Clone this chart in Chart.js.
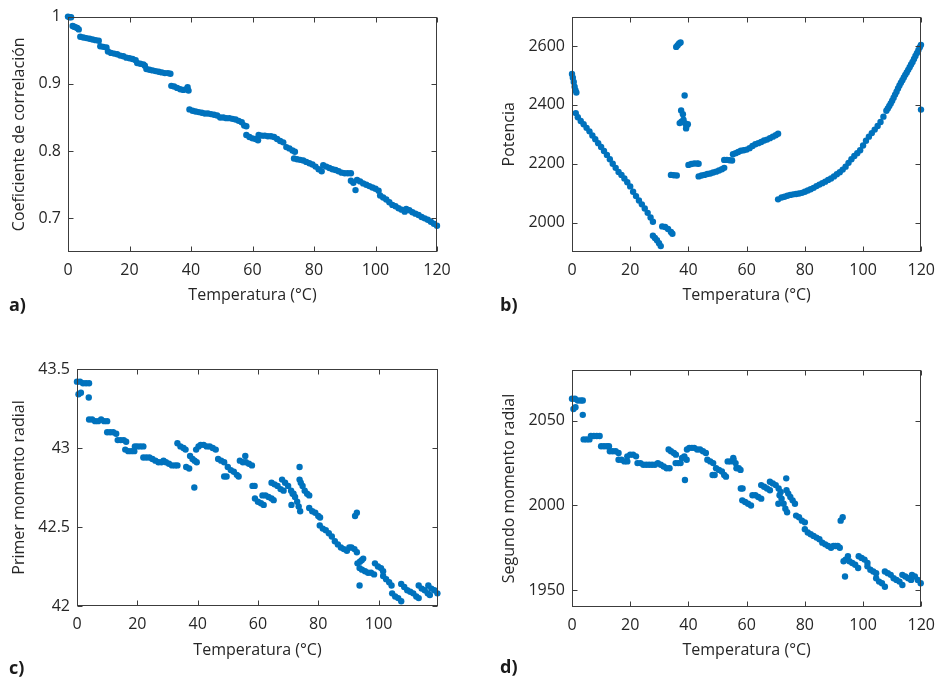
<!DOCTYPE html>
<html>
<head>
<meta charset="utf-8">
<title>Temperatura</title>
<script src="https://cdn.jsdelivr.net/npm/chart.js@4.4.1/dist/chart.umd.min.js"></script>
<style>
    body { margin: 0; background: #fff; }
    .page { position: relative; width: 944px; height: 679px; overflow: hidden; }
    .page canvas { position: absolute; }
    .tag { position: absolute; font-family: 'Open Sans', sans-serif; font-weight: 700; font-size: 18px; line-height: 20px; color: #1a1a1a; }
</style>
</head>
<body>
<div class="page">
    <canvas id="chart-a" width="470" height="330" style="left:0;top:0"></canvas>
    <canvas id="chart-b" width="474" height="330" style="left:470px;top:0"></canvas>
    <canvas id="chart-c" width="470" height="349" style="left:0;top:330px"></canvas>
    <canvas id="chart-d" width="474" height="349" style="left:470px;top:330px"></canvas>
    <div class="tag" style="left:9px;top:294px">a)</div>
    <div class="tag" style="left:500px;top:294px">b)</div>
    <div class="tag" style="left:9px;top:657px">c)</div>
    <div class="tag" style="left:500px;top:656px">d)</div>
</div>
<script>
// Data, one inner array per run of points
const tempTicks = [0, 20, 40, 60, 80, 100, 120];
const tempTicksC = [0, 20, 40, 60, 80, 100];

// a) correlation coefficient
const corrTemp = [
    [0, 0.5, 1.0],
    [1.5, 2, 2.5, 3, 3.5],
    [4, 5, 6, 7, 8, 9, 10],
    [10.5, 11.5, 12.5],
    [13, 14, 15, 16, 17, 18, 19, 20, 21, 22],
    [22.5, 23.5, 24.5, 25],
    [25.5, 26.5, 27.5, 28.5, 29.5, 30.5, 31.5, 32.5, 33.3],
    [33.6, 34.5, 35.5, 36.5, 37.5, 38.5, 38.9, 39.2],
    [39.5, 40.5, 41.5, 42.5, 43.5, 44.5, 45.5, 46.5, 47.5, 48.5, 49.5, 50.5, 51.5, 52.5, 53.5, 54.5, 55.5, 56.5, 57.3, 58],
    [58, 59, 60, 61, 61.8],
    [62, 63, 64, 65, 66, 67, 68, 69, 70],
    [71, 72, 73, 73.8],
    [73.5, 74.5, 75.5, 76.5, 77.5, 78.5, 79.5, 80.5, 81.5, 82.5],
    [83, 84, 85, 86, 87, 88, 89, 90, 91, 92],
    [92, 92.8, 93.5],
    [94, 95, 96, 97, 98, 99, 100, 101],
    [101.5, 102.5, 103.5, 104.5, 105.5, 106.5, 107.5, 108.5, 109.5],
    [110, 111, 112, 113, 114, 115, 116, 117, 118, 119, 120]
];
const corrValue = [
    [1.000, 0.999, 0.999],
    [0.986, 0.985, 0.984, 0.983, 0.981],
    [0.970, 0.969, 0.968, 0.967, 0.966, 0.965, 0.964],
    [0.956, 0.955, 0.954],
    [0.948, 0.946, 0.945, 0.944, 0.942, 0.941, 0.939, 0.938, 0.937, 0.935],
    [0.931, 0.930, 0.929, 0.927],
    [0.922, 0.921, 0.920, 0.919, 0.918, 0.917, 0.916, 0.916, 0.915],
    [0.897, 0.896, 0.894, 0.892, 0.891, 0.892, 0.895, 0.890],
    [0.862, 0.860, 0.859, 0.858, 0.857, 0.856, 0.856, 0.855, 0.854, 0.853, 0.850, 0.850, 0.849, 0.849, 0.848, 0.847, 0.845, 0.843, 0.838, 0.837],
    [0.824, 0.821, 0.819, 0.818, 0.816],
    [0.824, 0.823, 0.823, 0.822, 0.822, 0.821, 0.818, 0.815, 0.813],
    [0.806, 0.804, 0.801, 0.799],
    [0.789, 0.788, 0.787, 0.786, 0.784, 0.782, 0.780, 0.777, 0.773, 0.770],
    [0.779, 0.777, 0.775, 0.773, 0.772, 0.770, 0.768, 0.767, 0.767, 0.767],
    [0.756, 0.753, 0.742],
    [0.757, 0.755, 0.752, 0.750, 0.748, 0.746, 0.744, 0.741],
    [0.734, 0.731, 0.728, 0.724, 0.720, 0.718, 0.715, 0.713, 0.710],
    [0.714, 0.712, 0.709, 0.707, 0.705, 0.702, 0.700, 0.698, 0.695, 0.692, 0.689]
];
const corrTicks = [0.7, 0.8, 0.9, 1];

// b) power
const powerTemp = [
    [0, 0.3, 0.6, 0.9, 1.2, 1.5],
    [1.3, 2, 3, 4, 5, 6, 7, 8, 9, 10, 11, 12, 13, 14, 15, 16, 17, 18, 19, 20, 21, 22, 23, 24, 25, 26, 27, 27.8],
    [27.8, 28.5, 29.2, 29.9, 30.5],
    [31, 32, 33, 34, 34.5],
    [34, 35, 36],
    [35.8, 36.3, 36.8, 37.3],
    [38.7, 37.5, 38.1, 37.0, 37.6, 38.3, 38.8, 39.3, 39.8, 39.2],
    [40, 41, 42, 43, 43.5],
    [43.5, 44.5, 45.5, 46.5, 47.5, 48.5, 49.5, 50.5, 51.5, 52.3],
    [52.3, 53.2, 54.1, 55],
    [55.3, 56.2, 57.1, 58, 59, 60, 61, 62, 63, 64, 65, 66, 67, 68, 69, 70, 70.8],
    [70.8, 72, 73, 74, 75, 76, 77, 78, 79, 80,
     81, 82, 83, 84, 85, 86, 87, 88, 89, 90,
     91, 92, 93, 94, 95, 96, 97, 98, 99, 100,
     101, 102, 103, 104, 105, 106, 107, 108,
     108.5, 109, 109.5, 110, 110.5, 111, 111.5, 112, 112.5, 113,
     113.5, 114, 114.5, 115, 115.5, 116, 116.5, 117, 117.5, 118,
     118.5, 119, 119.5, 119.9],
    [119.9]
];
const powerValue = [
    [2505, 2492, 2478, 2462, 2450, 2442],
    [2372, 2358, 2345, 2334, 2322, 2310, 2296, 2283, 2270, 2257, 2243, 2230, 2215, 2200, 2186, 2172, 2162, 2150, 2137, 2123, 2105, 2090, 2075, 2062, 2048, 2033, 2017, 2003],
    [1955, 1948, 1940, 1930, 1920],
    [1987, 1985, 1978, 1968, 1962],
    [2162, 2161, 2160],
    [2597, 2603, 2609, 2612],
    [2432, 2381, 2368, 2338, 2343, 2350, 2338, 2328, 2334, 2320],
    [2196, 2199, 2201, 2201, 2200],
    [2157, 2160, 2162, 2165, 2167, 2170, 2173, 2177, 2181, 2186],
    [2213, 2213, 2212, 2211],
    [2232, 2236, 2240, 2244, 2246, 2248, 2253, 2260, 2266, 2270, 2274, 2279, 2282, 2287, 2292, 2297, 2302],
    [2079, 2085, 2088, 2091, 2094, 2096, 2097, 2099, 2101, 2105,
     2109, 2113, 2118, 2124, 2129, 2134, 2139, 2145, 2150, 2157,
     2164, 2171, 2180, 2190, 2203, 2215, 2226, 2236, 2246, 2262,
     2278, 2292, 2304, 2316, 2328, 2342, 2360, 2380,
     2388, 2396, 2405, 2414, 2424, 2435, 2445, 2456, 2466, 2475,
     2484, 2493, 2502, 2510, 2519, 2528, 2537, 2546, 2556, 2566,
     2576, 2586, 2596, 2604],
    [2384]
];
const powerTicks = [2000, 2200, 2400, 2600];

// c) first radial moment
const mom1Temp = [
    [0, 1, 2, 3, 4], [0.5, 1.3], [3.9],
    [4, 5, 6, 7, 8, 9, 10],
    [10, 11, 12, 13],
    [13.5, 14.5, 15.5, 16.3],
    [16, 17, 18, 19],
    [19.2, 20, 21, 22],
    [22, 23, 24, 25, 26, 27, 28, 28.7, 29.5, 30.5, 31.5, 32.5, 33.3],
    [33.3, 34.3, 35.3, 36],
    [36.2, 37.2],
    [37.5, 38.3, 39, 39.7],
    [38.9],
    [39.5, 40.3, 41, 42, 43, 44, 45, 46],
    [46.8, 47.8, 48.8],
    [48.8, 49.6],
    [50, 51, 52, 53, 53.6],
    [54, 55, 55.8, 56, 57, 58],
    [58.2, 58.9],
    [59, 60, 61, 61.9],
    [61.5, 62.5, 63.5, 64.5, 65.2],
    [64.5, 65.5, 66.5, 67.5, 68.5],
    [68, 69, 70, 71, 71.8],
    [71.1],
    [71.5, 72.3, 73, 73.5, 74],
    [73.8],
    [73.8, 74.2, 74.8, 75.5, 76.3, 77],
    [77, 78, 79, 80, 80.6],
    [80.5, 81.5, 82.5, 83.5, 84.5, 85.5, 86.5, 87.5, 88.5, 89.5],
    [90.3, 91, 92, 92.8],
    [92.2, 92.8],
    [93, 93.8, 94.4, 94.9, 93.7],
    [93.7],
    [94.5, 95.5, 96.5, 97.5, 98.5],
    [98.8, 99.8, 100.8, 101.5],
    [101.5, 102.5, 103.5, 104.3],
    [104.5, 105.5, 106.5, 107.5],
    [107.5, 108.5, 109.5, 110.5, 111.5, 112.5, 113.3],
    [113.3, 114.3, 115.3, 116.3, 117],
    [116.5, 117.5, 118.5, 119.5]
];
const mom1Value = [
    [43.42, 43.42, 43.41, 43.41, 43.41], [43.34, 43.35], [43.32],
    [43.18, 43.18, 43.17, 43.17, 43.18, 43.17, 43.17],
    [43.10, 43.10, 43.10, 43.09],
    [43.05, 43.05, 43.05, 43.04],
    [42.99, 42.98, 42.98, 42.98],
    [43.01, 43.01, 43.01, 43.01],
    [42.94, 42.94, 42.94, 42.93, 42.92, 42.91, 42.91, 42.92, 42.91, 42.90, 42.89, 42.89, 42.89],
    [43.03, 43.01, 43.00, 42.99],
    [42.88, 42.87],
    [42.95, 42.93, 42.92, 42.91],
    [42.75],
    [42.99, 43.01, 43.02, 43.02, 43.01, 43.01, 43.00, 42.99],
    [42.93, 42.92, 42.91],
    [42.82, 42.82],
    [42.88, 42.86, 42.85, 42.83, 42.82],
    [42.92, 42.91, 42.95, 42.91, 42.90, 42.89],
    [42.76, 42.76],
    [42.68, 42.66, 42.65, 42.64],
    [42.70, 42.70, 42.69, 42.68, 42.67],
    [42.78, 42.77, 42.76, 42.74, 42.73],
    [42.80, 42.78, 42.76, 42.73, 42.71],
    [42.64],
    [42.71, 42.69, 42.66, 42.63, 42.60],
    [42.88],
    [42.80, 42.78, 42.76, 42.73, 42.71, 42.70],
    [42.62, 42.60, 42.59, 42.57, 42.56],
    [42.51, 42.49, 42.48, 42.46, 42.44, 42.41, 42.39, 42.37, 42.36, 42.35],
    [42.37, 42.37, 42.36, 42.34],
    [42.57, 42.59],
    [42.27, 42.28, 42.29, 42.30, 42.24],
    [42.13],
    [42.23, 42.22, 42.21, 42.21, 42.20],
    [42.27, 42.25, 42.24, 42.22],
    [42.19, 42.17, 42.15, 42.13],
    [42.08, 42.06, 42.05, 42.03],
    [42.14, 42.12, 42.10, 42.09, 42.08, 42.06, 42.05],
    [42.13, 42.11, 42.10, 42.08, 42.07],
    [42.13, 42.11, 42.10, 42.08]
];
const mom1Ticks = [42, 42.5, 43, 43.5];

// d) second radial moment
const mom2Temp = [
    [0, 1, 2, 3, 3.7], [0.5, 1.2], [3.7],
    [4, 5, 6],
    [6.5, 7.5, 8.5, 9.5],
    [10, 11, 12, 12.7],
    [13, 14, 15, 16],
    [16, 17, 18, 19],
    [19, 20, 21, 22],
    [22.5, 23.5, 24.5, 25.5, 26.5, 27.5, 28.5, 29.5, 30.5, 31.5, 32.5, 33.5],
    [33.2, 34, 35, 35.7],
    [35.6, 36.5, 37.3],
    [37.8, 38.6, 39.4],
    [38.8],
    [39.5, 40.3, 41.2, 42, 43, 44, 45, 46],
    [46.5, 47.5, 48.5],
    [48.3, 49],
    [49.5, 50.5, 51.5, 52.3, 52.9],
    [53.5, 54.5, 55.4, 55.5, 56.2],
    [56.5, 57.3, 57.9],
    [58, 58.6],
    [58.5, 59.5, 60.5, 61.5],
    [62, 63, 64, 65],
    [65, 66, 67, 68],
    [68, 69, 70, 71, 71.7],
    [70.9],
    [71.3, 72, 72.7, 73.3, 73.9],
    [73.6],
    [73.7, 74.3, 75, 75.8, 76.6],
    [77, 78, 79, 80],
    [80, 81, 82, 83, 84, 85, 86, 87, 88, 89],
    [89.8, 90.5, 91.3, 92],
    [92.3, 93],
    [93.3, 94, 94.8],
    [93.8],
    [95.3, 96.3, 97.3, 98.3],
    [98.5, 99.5, 100.5, 101.5],
    [101.5, 102.5, 103.5, 104.5],
    [104.5, 105.5, 106.5, 107.5],
    [107.5, 108.5, 109.5, 110.5, 111.5, 112.5, 113.5],
    [113.5, 114.5, 115.5, 116.5],
    [116.8, 117.8, 118.8, 119.8]
];
const mom2Value = [
    [2063, 2063, 2062, 2062, 2062], [2057, 2058], [2053.5],
    [2039, 2039, 2039],
    [2041, 2041, 2041, 2041],
    [2035, 2035, 2035, 2035],
    [2032, 2032, 2032, 2031],
    [2027, 2027, 2026, 2026],
    [2029, 2030, 2030, 2029],
    [2025, 2025, 2024, 2024, 2024, 2024, 2024, 2025, 2024, 2023, 2022, 2022],
    [2033, 2032, 2031, 2030],
    [2025, 2025, 2025],
    [2028, 2029, 2027],
    [2015],
    [2033, 2034, 2034, 2034, 2033, 2033, 2032, 2031],
    [2027, 2026, 2025],
    [2018, 2018],
    [2022, 2021, 2020, 2018, 2017],
    [2026, 2026, 2028, 2027, 2025],
    [2022, 2022, 2021],
    [2010, 2010],
    [2003, 2002, 2001, 2000],
    [2006, 2006, 2005, 2004],
    [2012, 2011, 2010, 2009],
    [2014, 2013, 2012, 2010, 2008],
    [2001],
    [2006, 2004, 2001, 1998, 1996],
    [2016],
    [2009, 2007, 2005, 2003, 2001],
    [1994, 1993, 1991, 1990],
    [1986, 1984, 1983, 1982, 1981, 1980, 1978, 1977, 1976, 1975],
    [1976, 1976, 1976, 1975],
    [1991, 1993],
    [1967, 1968, 1970],
    [1958],
    [1967, 1966, 1965, 1963],
    [1970, 1969, 1968, 1966],
    [1964, 1962, 1961, 1960],
    [1957, 1955, 1954, 1952],
    [1961, 1960, 1959, 1957, 1956, 1955, 1953],
    [1959, 1958, 1957, 1956],
    [1959, 1958, 1956, 1954]
];
const mom2Ticks = [1950, 2000, 2050];

const markerColor = '#0072BD';
const textColor = '#262626';
const axisColor = '#3c3c3c';

Chart.defaults.font.family = "'Open Sans', sans-serif";
Chart.defaults.font.size = 16;
Chart.defaults.color = textColor;

// Plugin to draw the MATLAB-style box with inward ticks on all four sides
const boxTicks = {
    id: 'boxTicks',
    afterDatasetsDraw(chart) {
        const {ctx, chartArea, scales} = chart;
        const left = Math.round(chartArea.left) + 0.5;
        const right = Math.round(chartArea.right) - 0.5;
        const top = Math.round(chartArea.top) + 0.5;
        const bottom = Math.round(chartArea.bottom) - 0.5;
        const len = 5;

        ctx.save();
        ctx.strokeStyle = axisColor;
        ctx.lineWidth = 1;
        ctx.strokeRect(left, top, right - left, bottom - top);

        ctx.beginPath();
        scales.x.ticks.forEach(function(t) {
            const px = Math.round(scales.x.getPixelForValue(t.value)) + 0.5;
            ctx.moveTo(px, bottom);
            ctx.lineTo(px, bottom - len);
            ctx.moveTo(px, top);
            ctx.lineTo(px, top + len);
        });
        scales.y.ticks.forEach(function(t) {
            const py = Math.round(scales.y.getPixelForValue(t.value)) + 0.5;
            ctx.moveTo(left, py);
            ctx.lineTo(left + len, py);
            ctx.moveTo(right, py);
            ctx.lineTo(right - len, py);
        });
        ctx.stroke();
        ctx.restore();
    }
};

// Function to build one scatter panel
function makePanel(id, temps, values, cfg) {
    const xs = temps.flat();
    const ys = values.flat();
    const points = xs.map(function(t, i) {
        return {x: t, y: ys[i]};
    });

    new Chart(document.getElementById(id), {
        type: 'scatter',
        data: {
            datasets: [{
                data: points,
                backgroundColor: markerColor,
                pointRadius: 3.2,
                pointHoverRadius: 3.2,
                pointBorderWidth: 0,
                clip: false
            }]
        },
        options: {
            responsive: false,
            animation: false,
            devicePixelRatio: 1,
            events: [],
            layout: {
                padding: {top: cfg.top, right: cfg.right, left: 0, bottom: 0}
            },
            plugins: {
                legend: {display: false},
                tooltip: {enabled: false}
            },
            scales: {
                x: {
                    type: 'linear',
                    min: 0,
                    max: cfg.xMax,
                    grid: {display: false, drawTicks: false},
                    border: {display: false},
                    ticks: {
                        padding: 9,
                        maxRotation: 0,
                        autoSkip: false,
                        callback: function(v) { return String(v); }
                    },
                    afterBuildTicks: function(scale) {
                        scale.ticks = cfg.xTicks.map(function(v) { return {value: v}; });
                    },
                    afterFit: function(scale) {
                        scale.height = cfg.xHeight;
                    },
                    title: {
                        display: true,
                        text: 'Temperatura (°C)',
                        padding: {top: 0, bottom: cfg.xTitlePad}
                    }
                },
                y: {
                    type: 'linear',
                    min: cfg.yMin,
                    max: cfg.yMax,
                    grid: {display: false, drawTicks: false},
                    border: {display: false},
                    ticks: {
                        padding: 7,
                        autoSkip: false,
                        callback: function(v) { return String(v); }
                    },
                    afterBuildTicks: function(scale) {
                        scale.ticks = cfg.yTicks.map(function(v) { return {value: v}; });
                    },
                    afterFit: function(scale) {
                        scale.width = cfg.yWidth;
                    },
                    title: {
                        display: true,
                        text: cfg.yTitle,
                        padding: {top: cfg.yTitlePad, bottom: 0}
                    }
                }
            }
        },
        plugins: [boxTicks]
    });
}

makePanel('chart-a', corrTemp, corrValue, {
    top: 16, right: 33, yWidth: 68, xHeight: 78, xTitlePad: 25.4, yTitlePad: 9.4,
    xMax: 120, xTicks: tempTicks, yMin: 0.65, yMax: 1, yTicks: corrTicks,
    yTitle: 'Coeficiente de correlación'
});

makePanel('chart-b', powerTemp, powerValue, {
    top: 16, right: 17, yWidth: 102, xHeight: 78, xTitlePad: 25.4, yTitlePad: 29.4,
    xMax: 120, xTicks: tempTicks, yMin: 1900, yMax: 2700, yTicks: powerTicks,
    yTitle: 'Potencia'
});

makePanel('chart-c', mom1Temp, mom1Value, {
    top: 39, right: 32, yWidth: 77, xHeight: 73, xTitlePad: 19.4, yTitlePad: 9.4,
    xMax: 119.7, xTicks: tempTicksC, yMin: 42, yMax: 43.5, yTicks: mom1Ticks,
    yTitle: 'Primer momento radial'
});

makePanel('chart-d', mom2Temp, mom2Value, {
    top: 40, right: 16, yWidth: 102, xHeight: 72, xTitlePad: 19.4, yTitlePad: 29.4,
    xMax: 120, xTicks: tempTicks, yMin: 1940, yMax: 2080, yTicks: mom2Ticks,
    yTitle: 'Segundo momento radial'
});
</script>
</body>
</html>
